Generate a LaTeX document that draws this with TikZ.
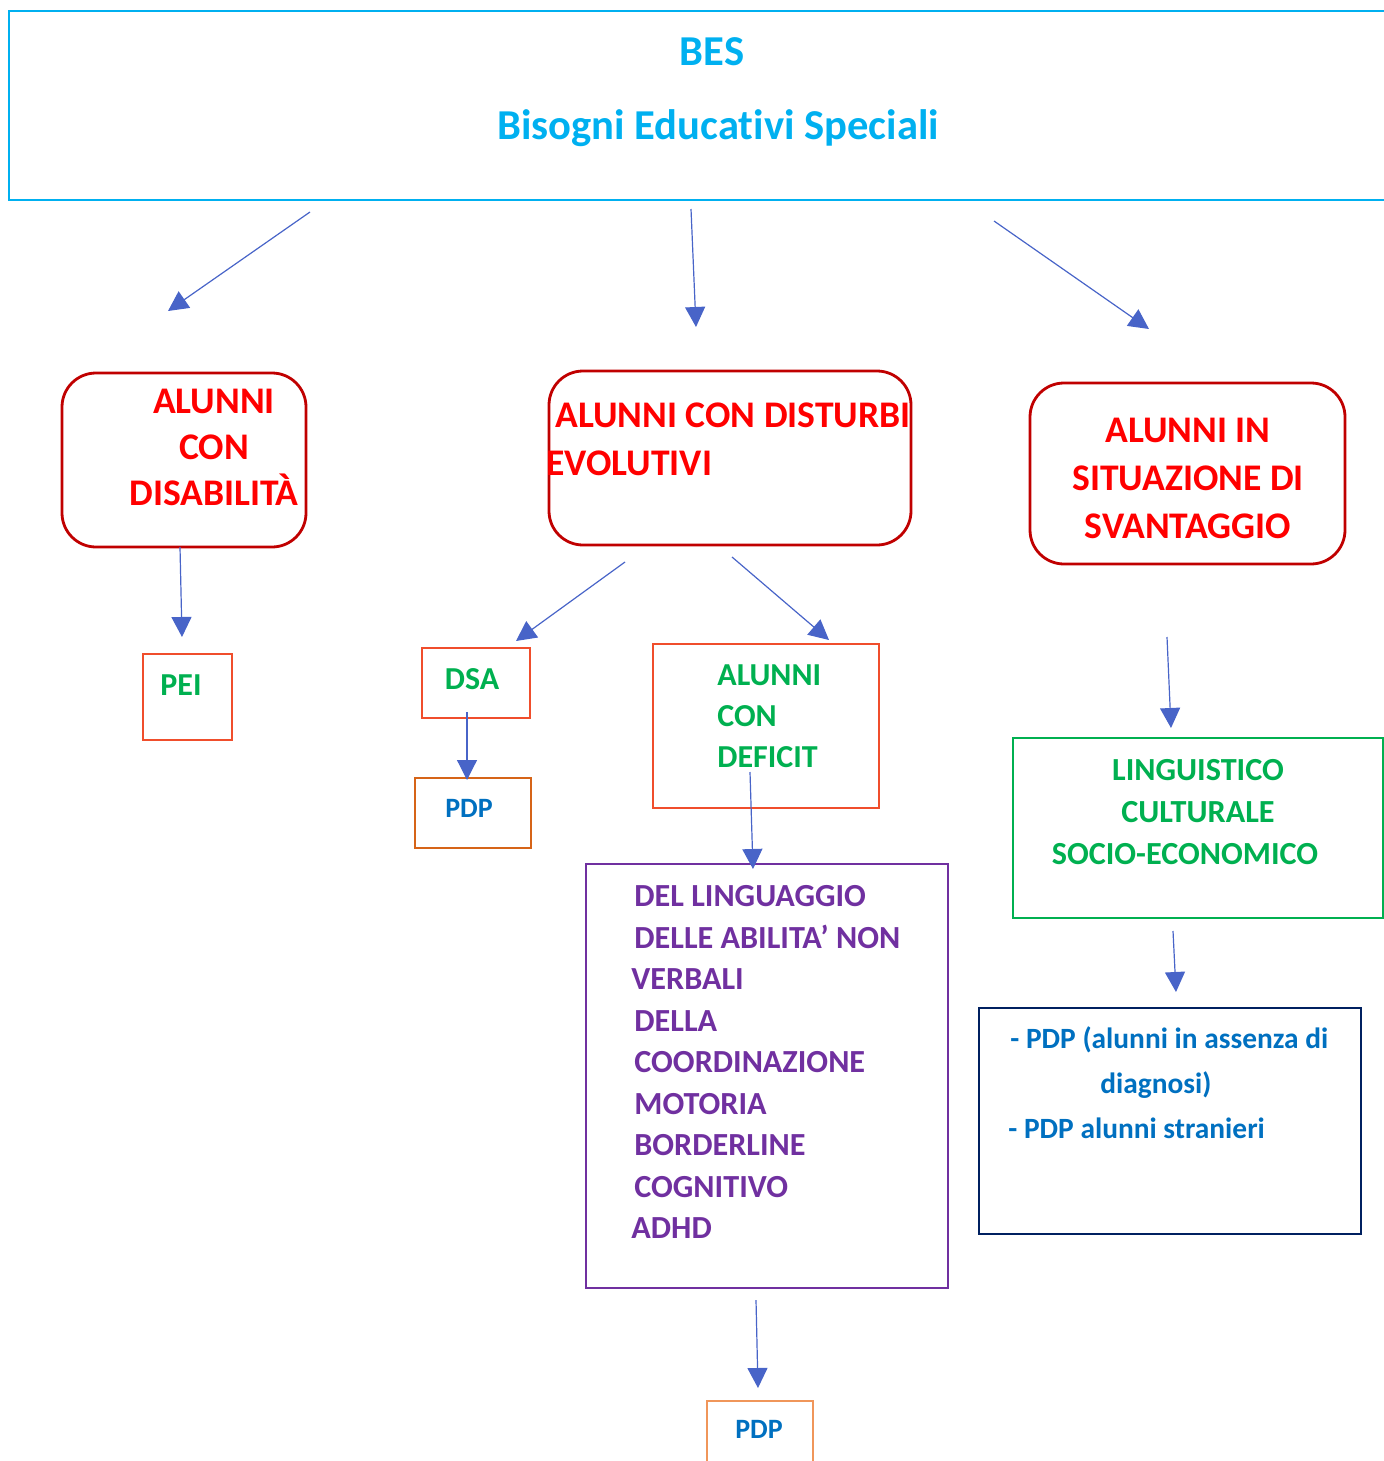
\documentclass[tikz,border=0pt]{standalone}
\usepackage{fontspec}
\setmainfont{Carlito}[Ligatures=NoCommon]
\usetikzlibrary{arrows.meta,fit}

\definecolor{celeste}{RGB}{0,176,240}
\definecolor{rossoscuro}{RGB}{192,0,0}
\definecolor{rosso}{RGB}{255,0,0}
\definecolor{arancio}{RGB}{240,78,44}
\definecolor{arancioscuro}{RGB}{214,100,24}
\definecolor{pesca}{RGB}{240,150,90}
\definecolor{verde}{RGB}{0,176,80}
\definecolor{azzurro}{RGB}{0,112,192}
\definecolor{viola}{RGB}{112,48,160}
\definecolor{navy}{RGB}{0,32,96}
\definecolor{freccia}{RGB}{72,100,200}

\tikzset{
	cornice/.style={draw=celeste, line width=1.3pt, inner sep=0pt},
	boxrosso/.style={draw=rossoscuro, line width=1.4pt, rounded corners=17pt, inner sep=0pt},
	quadro/.style={line width=1.2pt, inner sep=0pt},
	titolo/.style={text=celeste, inner sep=0pt, font=\fontsize{21.3pt}{25pt}\selectfont\bfseries},
	testorosso/.style={text=rosso, inner sep=0pt, font=\fontsize{18.8pt}{23pt}\selectfont\bfseries},
	testoverde/.style={text=verde, inner sep=0pt, font=\fontsize{16pt}{20.5pt}\selectfont\bfseries},
	testoviola/.style={text=viola, inner sep=0pt, align=left, font=\fontsize{16.1pt}{20.75pt}\selectfont\bfseries},
	testoblu/.style={text=azzurro, inner sep=0pt, font=\fontsize{14.7pt}{22.5pt}\selectfont\bfseries},
	linea/.style={draw=freccia, line width=0.6pt, -{Triangle[width=10pt,length=10pt]}}
}

\begin{document}
\begin{tikzpicture}[x=0.5pt,y=-0.5pt]
	\clip (0,0) rectangle (1384,1461);
	
	\node[cornice, fit={(9,11) (1420,200)}] (bes) {};
	\node[titolo] (tbes) at (712,52) {BES};
	\node[titolo] (tbisogni) at (718,128) {Bisogni Educativi Speciali};
	
	\node[boxrosso, fit={(62,373) (306,547)}] (disab) {};
	\node[boxrosso, fit={(549,371) (911,545)}] (disturbi) {};
	\node[boxrosso, fit={(1030,383) (1345,564)}] (svant) {};
	\node[testorosso, align=center] (tdisab) at (214,447) {ALUNNI\\CON\\DISABILITÀ};
	\node[testorosso, align=left, anchor=west, font=\fontsize{18.8pt}{24pt}\selectfont\bfseries] (tdisturbi) at (546,439) {\hspace*{4.5pt}ALUNNI CON DISTURBI\\EVOLUTIVI};
	\node[testorosso, align=center, font=\fontsize{18.8pt}{24pt}\selectfont\bfseries] (tsvant) at (1188,478) {ALUNNI IN\\SITUAZIONE DI\\SVANTAGGIO};
	
	\node[quadro, draw=arancio, fit={(143,654) (232,740)}] (pei) {};
	\node[testoverde, anchor=west] (tpei) at (160,685) {PEI};
	
	\node[quadro, draw=arancio, fit={(422,648) (530,718)}] (dsa) {};
	\node[testoverde] (tdsa) at (472,679) {DSA};
	\node[quadro, draw=arancioscuro, fit={(415,778) (531,848)}] (pdpa) {};
	\node[testoblu, font=\fontsize{14pt}{17pt}\selectfont\bfseries] (tpdpa) at (469,808) {PDP};
	
	\node[quadro, draw=arancio, fit={(653,644) (879,808)}] (deficit) {};
	\node[testoverde, align=left, anchor=west] (tdeficit) at (717,716) {ALUNNI\\CON\\DEFICIT};
	
	\node[quadro, draw=viola, fit={(586,864) (948,1288)}] (tipi) {};
	\node[testoviola, anchor=west] (ttipi) at (631,1062) {\hspace*{1.5pt}DEL LINGUAGGIO\\\hspace*{1.5pt}DELLE ABILITA’ NON\\VERBALI\\\hspace*{1.5pt}DELLA\\\hspace*{1.5pt}COORDINAZIONE\\\hspace*{1.5pt}MOTORIA\\\hspace*{1.5pt}BORDERLINE\\\hspace*{1.5pt}COGNITIVO\\ADHD};
	
	\node[quadro, draw=pesca, line width=1.4pt, fit={(707,1401) (813,1480)}] (pdpb) {};
	\node[testoblu, font=\fontsize{14pt}{17pt}\selectfont\bfseries] (tpdpb) at (759,1429) {PDP};
	
	\node[quadro, draw=verde, fit={(1013,738) (1383,918)}] (ling) {};
	\node[testoverde, align=center, font=\fontsize{16.1pt}{21pt}\selectfont\bfseries] (tling) at (1198,812) {LINGUISTICO\\CULTURALE\\\hspace*{-13pt}SOCIO-ECONOMICO};
	
	\node[quadro, draw=navy, line width=1.3pt, fit={(979,1008) (1361,1234)}] (pdpc) {};
	\node[testoblu, align=left, anchor=west] (tpdpc) at (1008,1083) {\hspace*{1pt}- PDP (alunni in assenza di\\\hspace*{46pt}diagnosi)\\- PDP alunni stranieri};
	
	\coordinate (a1) at (310,212);
	\coordinate (a1e) at (168,311);
	\coordinate (a2) at (691,209);
	\coordinate (a2e) at (696,327);
	\coordinate (a3) at (994,221);
	\coordinate (a3e) at (1149,329);
	\coordinate (a4) at (180,547);
	\coordinate (a4e) at (182,637);
	\coordinate (a5) at (625,562);
	\coordinate (a5e) at (516,641);
	\coordinate (a6) at (732,557);
	\coordinate (a6e) at (829,640);
	\coordinate (a7) at (467,712);
	\coordinate (a7e) at (467,780);
	\coordinate (a8) at (750,772);
	\coordinate (a8e) at (753,869);
	\coordinate (a9) at (756,1300);
	\coordinate (a9e) at (758,1388);
	\coordinate (a10) at (1167,637);
	\coordinate (a10e) at (1171,728);
	\coordinate (a11) at (1173,931);
	\coordinate (a11e) at (1176,992);
	
	\draw[linea] (a1) -- (a1e);
	\draw[linea] (a2) -- (a2e);
	\draw[linea] (a3) -- (a3e);
	\draw[linea] (a4) -- (a4e);
	\draw[linea] (a5) -- (a5e);
	\draw[linea] (a6) -- (a6e);
	\draw[linea] (a7) -- (a7e);
	\draw[linea] (a8) -- (a8e);
	\draw[linea] (a9) -- (a9e);
	\draw[linea] (a10) -- (a10e);
	\draw[linea] (a11) -- (a11e);
	
\end{tikzpicture}
\end{document}
